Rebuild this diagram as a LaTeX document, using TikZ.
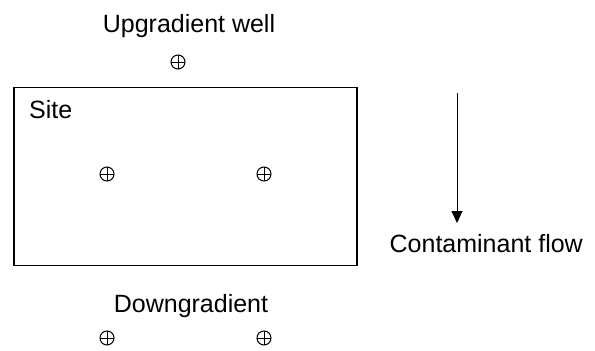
\documentclass[tikz,border=0pt]{standalone}
\usepackage{fontspec}
\setmainfont{Liberation Sans}
\usetikzlibrary{arrows.meta}
\begin{document}
\begin{tikzpicture}[x=1pt,y=-1pt,
  lbl/.style={inner sep=0pt,font=\fontsize{25}{30}\selectfont},
  well/.style={circle,draw,line width=1pt,minimum size=14pt,inner sep=0pt,
    path picture={\draw[line width=1pt] (path picture bounding box.north)--(path picture bounding box.south)
      (path picture bounding box.west)--(path picture bounding box.east);}},
  box/.style={draw,line width=1.5pt,inner sep=0pt}]
\useasboundingbox (0,0) rectangle (595,351);
\node[lbl,anchor=base] (up) at (189,32) {Upgradient well};
\node[well] (w1) at (178,62) {};
\node[box,minimum width=343pt,minimum height=178pt] (site) at (185.5,176.5) {};
\node[lbl,anchor=base west] (sitel) at (29,118) {Site};
\node[well] (w2) at (107,174) {};
\node[well] (w3) at (264,174) {};
\coordinate (a1) at (457,93);
\coordinate (a2) at (457,223);
\draw[line width=1pt,-{Triangle[length=12pt,width=11pt]}] (a1) -- (a2);
\node[lbl,anchor=base east] (flow) at (583,252) {Contaminant flow};
\node[lbl,anchor=base] (down) at (191,312) {Downgradient};
\node[well] (w4) at (107,338) {};
\node[well] (w5) at (264,338) {};
\end{tikzpicture}
\end{document}
